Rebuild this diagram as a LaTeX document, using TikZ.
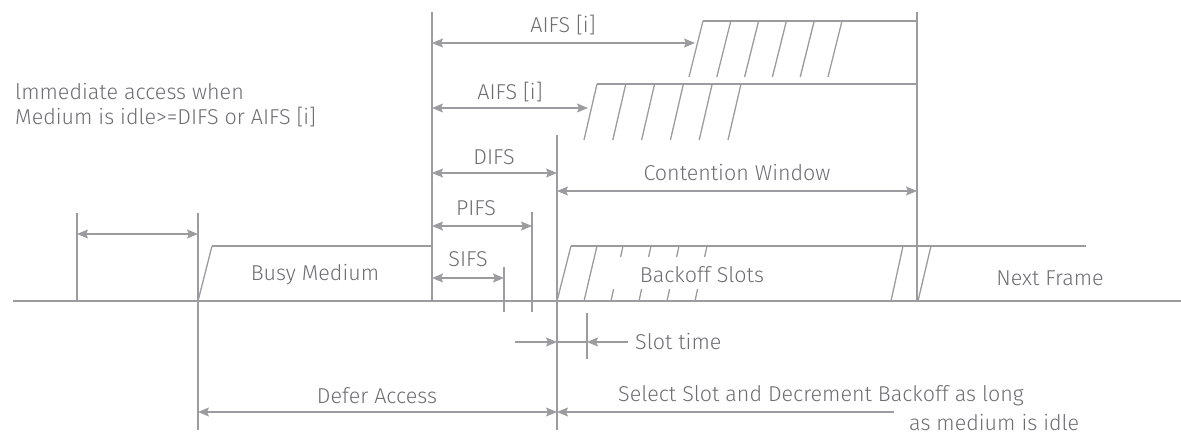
\documentclass[tikz,border=0pt]{standalone}
\usepackage{fontspec}
\IfFontExistsTF{Fira Sans Light}{\setsansfont{Fira Sans Light}}{\setsansfont{Fira Sans}}
\usetikzlibrary{arrows.meta}
\definecolor{linegray}{HTML}{9B9BA0}
\definecolor{textgray}{HTML}{6E6E72}

\begin{document}
\begin{tikzpicture}[x=1pt, y=-1pt,
    wire/.style={draw=linegray, line width=1.3pt},
    signal/.style={draw=linegray, line width=2.2pt},
    tip/.tip={Stealth[length=11pt, width=9pt, inset=2pt]},
    span/.style={wire, tip-tip},
    ray/.style={wire, -tip},
    lbl/.style={text=textgray, font=\sffamily\fontsize{21.5}{25}\selectfont, inner sep=0pt}
]
\useasboundingbox (0,0) rectangle (1181,438);

\foreach \n/\x/\y in {startL/13/301, startR/1181/301,
    gapL/77/234, gapR/198/234,
    aifsaL/432/43, aifsaR/695/43, aifsbL/432/108, aifsbR/588/108,
    difsL/432/173, difsR/557/173, pifsL/432/226, pifsR/532/226,
    sifsL/432/278, sifsR/504/278, cwL/557/191, cwR/917/191,
    slotA/515/342, slotB/557/342, slotC/587/342, slotD/628/342,
    deferL/198/412, deferR/557/412, selectR/894/412}
  \coordinate (\n) at (\x,\y);

\draw[signal] (startL) -- (startR);

\draw[wire] (77,213) -- (77,301);
\draw[wire] (198,213) -- (198,430);
\draw[wire] (432,12) -- (432,301);
\draw[wire] (504,267) -- (504,312);
\draw[wire] (532,212) -- (532,312);
\draw[wire] (557,135) -- (557,430);
\draw[wire] (587,313) -- (587,359);
\draw[wire] (917,12) -- (917,301);

\draw[wire] (198,301) -- (212,246);
\draw[signal] (212,246) -- (432,246);

\draw[signal] (703,21) -- (917,21);
\foreach \i in {0,...,5}
  \draw[wire] (689+27.8*\i,77) -- (703+27.8*\i,21);
\draw[signal] (597,84) -- (917,84);
\foreach \i in {0,...,5}
  \draw[wire] (584+28.8*\i,140) -- (597+28.8*\i,84);

\draw[signal] (571,246) -- (1086,246);
\draw[wire] (557,301) -- (571,246);
\draw[wire] (584,301) -- (597,246);
\foreach \i in {0,...,3} {
  \draw[wire] (611+28*\i,301) -- (613.6+28*\i,289);
  \draw[wire] (620.6+28*\i,257) -- (623+28*\i,246);
}
\draw[wire] (891,301) -- (903,246);
\draw[wire] (918,301) -- (931,246);

\draw[span] (gapL) -- (gapR);
\draw[span] (aifsaL) -- (aifsaR);
\draw[span] (aifsbL) -- (aifsbR);
\draw[span] (difsL) -- (difsR);
\draw[span] (pifsL) -- (pifsR);
\draw[span] (sifsL) -- (sifsR);
\draw[span] (cwL) -- (cwR);
\draw[ray] (slotA) -- (slotB);
\draw[wire] (slotB) -- (slotC);
\draw[ray] (slotD) -- (slotC);
\draw[span] (deferL) -- (deferR);
\draw[ray] (selectR) -- (deferR);

\node (aifsa) [lbl] at (563,25) {AIFS [i]};
\node (aifsb) [lbl] at (510,92) {AIFS [i]};
\node (difs) [lbl] at (494,157) {DIFS};
\node (pifs) [lbl] at (476,208) {PIFS};
\node (sifs) [lbl] at (468,259) {SIFS};
\node (cw) [lbl] at (737,173) {Contention Window};
\node (immediate) [lbl, anchor=west, align=left] at (15,105) {lmmediate access when\\Medium is idle>=DIFS or AIFS [i]};
\node (busy) [lbl] at (315,275) {Busy Medium};
\node (backoff) [lbl] at (702,275) {Backoff Slots};
\node (next) [lbl] at (1050,278) {Next Frame};
\node (slot) [lbl, anchor=west] at (635,342) {Slot time};
\node (defer) [lbl] at (377,396) {Defer Access};
\node (select) [lbl, anchor=west] at (618,396) {Select Slot and Decrement Backoff as long};
\node (idle) [lbl, anchor=base west] at (909,430) {as medium is idle};
\end{tikzpicture}
\end{document}
